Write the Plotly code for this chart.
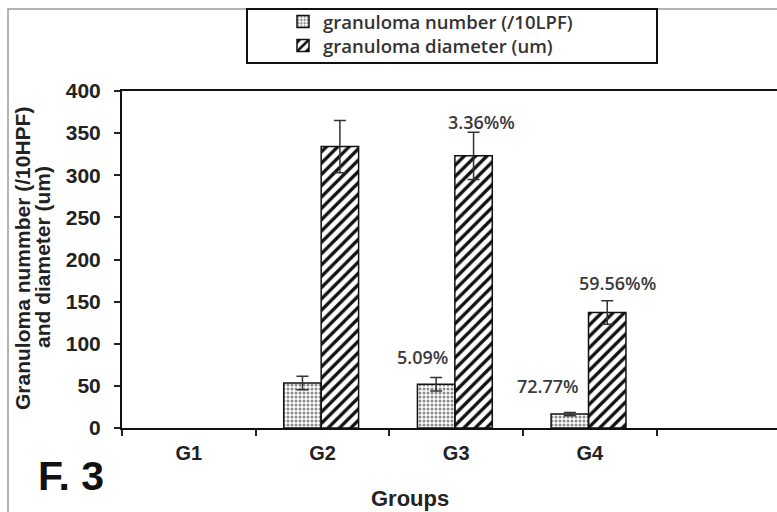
import plotly.graph_objects as go

# Granuloma number and diameter per experimental group
groups = ["G1", "G2", "G3", "G4"]
granuloma_number = [None, 53.5, 52, 16.5]
granuloma_number_err = [None, 8, 8, 2]
granuloma_diameter = [None, 334, 323, 137]
granuloma_diameter_err = [None, 31, 28, 14]
y_ticks = [0, 50, 100, 150, 200, 250, 300, 350, 400]

# reduction labels: (x position in group units, y value, text)
reduction_notes = [
    (1.745, 84, "5.09%"),
    (2.19, 363, "3.36%%"),
    (2.69, 50, "72.77%"),
    (3.205, 172, "59.56%%"),
]

W, H = 777, 512
L, R, T, B = 122, 0, 91, 84
PW, PH = W - L - R, H - T - B


def px_x(px):
    return (px - L) / PW


def px_y(py):
    return (H - B - py) / PH


xpos = list(range(len(groups)))
bar_w = 0.28

fig = go.Figure()
fig.add_trace(go.Bar(
    name="granuloma number (/10LPF)",
    x=xpos, y=granuloma_number,
    width=bar_w, offset=-0.29,
    legend="legend",
    marker=dict(color="#f0f0f0",
                line=dict(color="#111", width=1.5),
                pattern=dict(shape=".", size=4, solidity=0.45,
                             fgcolor="#8a8a8a", fillmode="replace")),
    error_y=dict(type="data", array=granuloma_number_err, visible=True,
                 color="#333", thickness=1.5, width=6),
))
fig.add_trace(go.Bar(
    name="granuloma diameter (um)",
    x=xpos, y=granuloma_diameter,
    width=bar_w, offset=-0.01,
    legend="legend2",
    marker=dict(color="white",
                line=dict(color="#111", width=1.5),
                pattern=dict(shape="/", size=8, solidity=0.42,
                             fgcolor="#111", fillmode="replace")),
    error_y=dict(type="data", array=granuloma_diameter_err, visible=True,
                 color="#333", thickness=1.5, width=6),
))

annotations = []
for x, y, t in reduction_notes:
    annotations.append(dict(x=x, y=y, xref="x", yref="y", text=t,
                            showarrow=False, xanchor="center", yanchor="middle",
                            font=dict(family="Open Sans", size=18,
                                      color="#3a3a3a", weight=600)))

def paper_text(px, py, text, size, angle=0, color="#222"):
    return dict(x=px_x(px), y=px_y(py), xref="paper", yref="paper",
                text=text, textangle=angle, showarrow=False,
                xanchor="center", yanchor="middle",
                font=dict(family="Liberation Sans", size=size, color=color,
                          weight="bold"))

annotations += [
    paper_text(71, 476, "F. 3", 41, color="#111"),
    paper_text(410, 498, "Groups", 22),
    paper_text(22, 259, "Granuloma nummber (/10HPF)", 21, angle=-90),
    paper_text(42, 257, "and diameter (um)", 21, angle=-90),
]

shapes = [
    # outer frame
    dict(type="rect", xref="paper", yref="paper",
         x0=px_x(8), x1=px_x(800), y0=px_y(540), y1=px_y(9),
         line=dict(color="#9a9a9a", width=1.5), fillcolor="rgba(0,0,0,0)",
         layer="below"),
    # legend box
    dict(type="rect", xref="paper", yref="paper",
         x0=px_x(247), x1=px_x(657), y0=px_y(63), y1=px_y(9),
         line=dict(color="#111", width=2), fillcolor="white"),
]

legend_style = dict(xanchor="left", yanchor="top",
                    bgcolor="rgba(0,0,0,0)", borderwidth=0,
                    font=dict(family="Open Sans", size=18.5, color="#333",
                              weight=600),
                    itemwidth=30)

fig.update_layout(
    width=W, height=H,
    margin=dict(l=L, r=R, t=T, b=B, autoexpand=False),
    paper_bgcolor="white", plot_bgcolor="white",
    barmode="group",
    showlegend=True,
    legend=dict(x=px_x(283), y=px_y(3), **legend_style),
    legend2=dict(x=px_x(283), y=px_y(27), **legend_style),
    annotations=annotations,
    shapes=shapes,
    xaxis=dict(
        range=[-0.5, 4.4],
        tickmode="array", tickvals=xpos, ticktext=groups,
        ticks="", ticklabelstandoff=6,
        tickfont=dict(family="Liberation Sans", size=20, color="#222",
                      weight="bold"),
        minor=dict(tickmode="array", tickvals=[i - 0.5 for i in range(len(groups) + 1)],
                   ticks="outside", ticklen=6, tickwidth=1.5, tickcolor="#222"),
        showline=True, linecolor="#111", linewidth=2, mirror=True,
        showgrid=False, zeroline=False, fixedrange=True,
    ),
    yaxis=dict(
        range=[0, 400],
        tickmode="array", tickvals=y_ticks,
        ticks="outside", ticklen=6, tickwidth=1.5, tickcolor="#222",
        ticklabelstandoff=9,
        tickfont=dict(family="Liberation Sans", size=21, color="#222",
                      weight="bold"),
        showline=True, linecolor="#111", linewidth=2,
        showgrid=False, zeroline=False, fixedrange=True,
    ),
)

fig.write_html("out.html")
